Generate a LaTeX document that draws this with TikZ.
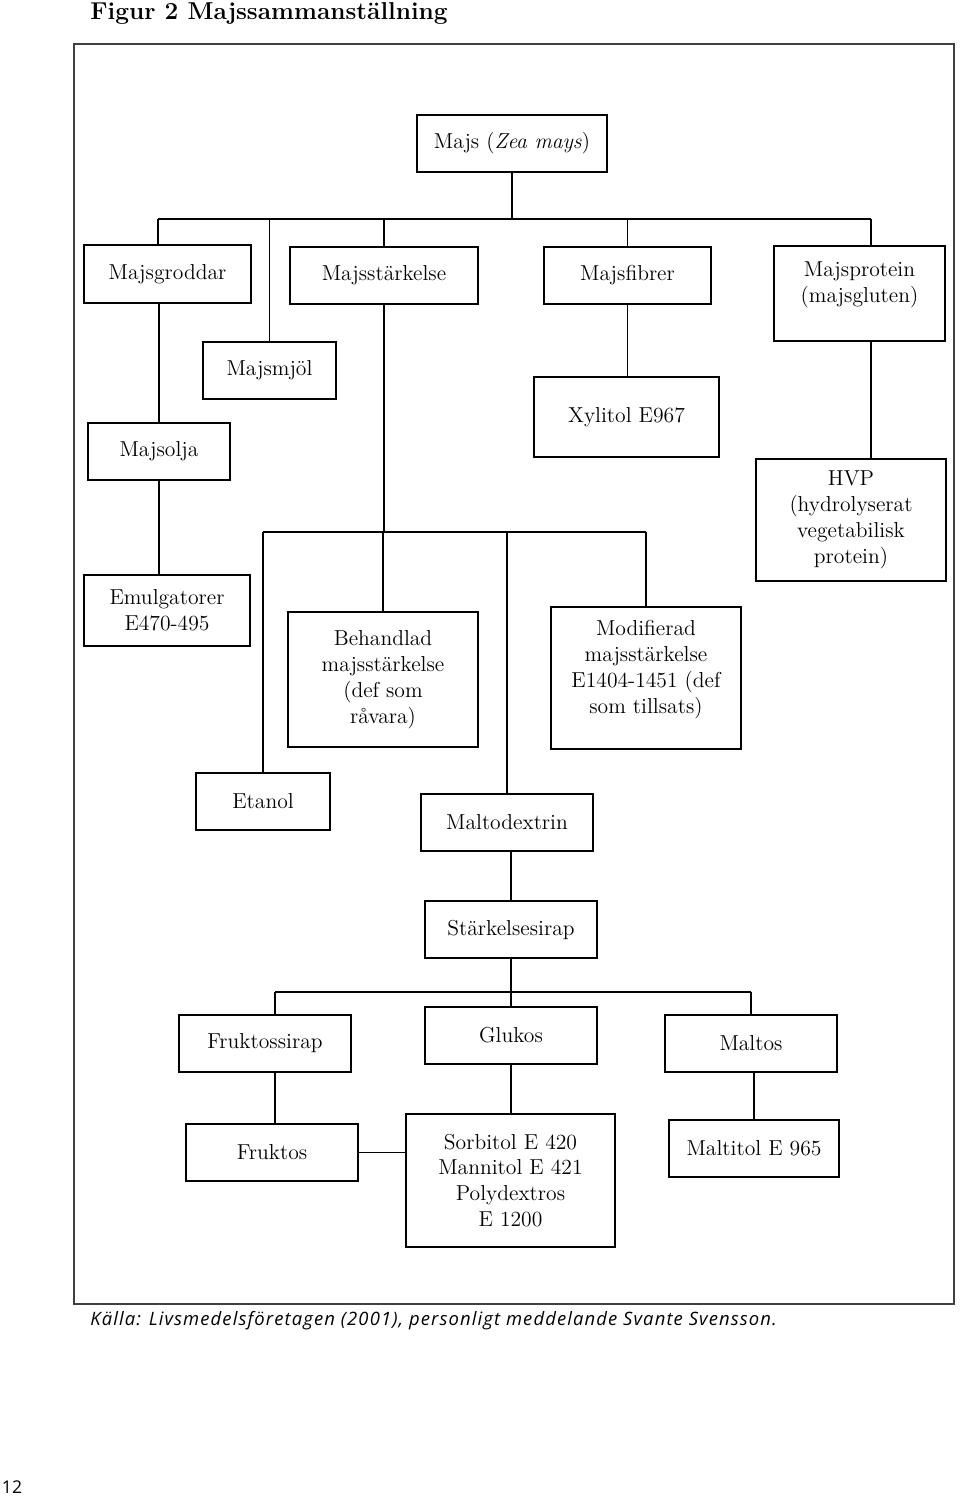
\documentclass[tikz,border=0pt]{standalone}
\usepackage{fontspec}
\newfontfamily\capfont{Open Sans}
\newfontfamily\notecapfont[LetterSpace=6]{Open Sans}
\newcommand{\pxu}{0.02cm}
\newcommand{\boxfont}{\fontsize{12.3}{14.7}\selectfont}
\newcommand{\titlefont}{\fontsize{13.9}{16}\selectfont\bfseries}
\newcommand{\notefont}{\fontsize{10.5}{12}\selectfont\notecapfont\itshape}
\newcommand{\topbary}{219}
\newcommand{\midbary}{532}
\newcommand{\lowbary}{992}
\tikzset{
  box/.style 2 args={draw, line width=1.1pt, align=center, inner sep=2pt,
    minimum width=#1*\pxu, minimum height=#2*\pxu, font=\boxfont},
  conn/.style={line width=1.1pt}
}

\begin{document}
\begin{tikzpicture}[x=\pxu, y=-\pxu]
    \useasboundingbox (0,0) rectangle (960,1496);
    \draw[line width=1pt, black!75] (74,44) rectangle (954,1304);

    \node[anchor=west, font=\titlefont, inner sep=0pt] (titel) at (90,13)
      {Figur 2 Majssammanställning};
    \node[anchor=west, font=\notefont, inner sep=0pt] (kalla) at (90,1321)
      {Källa: Livsmedelsföretagen (2001), personligt meddelande Svante Svensson.};
    \node[font=\fontsize{10}{12}\selectfont\capfont] (sida) at (12,1487) {12};

    \node[box={190}{57}] (majs) at (512,143.5) {Majs (\textit{Zea mays})};

    \node[box={167}{58}] (groddar) at (167.5,274) {Majsgroddar};
    \node[box={188}{57}] (starkelse) at (384,275.5) {Majsstärkelse};
    \node[box={167}{57}] (fibrer) at (627.5,275.5) {Majsfibrer};
    \node[box={171}{95}] (protein) at (859.5,293.5)
      {Majsprotein\\(majsgluten)\\[-2pt]};

    \node[box={133}{57}] (majsmjol) at (269.5,370.5) {Majsmjöl};
    \node[box={142}{57}] (majsolja) at (159,451.5) {Majsolja};
    \node[box={185}{80}] (xylitol) at (626.5,417) {Xylitol E967};
    \node[box={190}{122}] (hvp) at (851,520)
      {HVP\\(hydrolyserat\\vegetabilisk\\protein)};
    \node[box={166}{71}] (emulg) at (167,610.5) {Emulgatorer\\E470-495};

    \node[box={190}{135}] (behandlad) at (383,679.5)
      {Behandlad\\majsstärkelse\\(def som\\råvara)};
    \node[box={190}{142}] (modifierad) at (646,678)
      {Modifierad\\majsstärkelse\\E1404-1451 (def\\som tillsats)\\[-2pt]};

    \node[box={134}{57}] (etanol) at (263,801.5) {Etanol};
    \node[box={172}{57}] (maltodextrin) at (507,822.5) {Maltodextrin};
    \node[box={172}{57}] (sirap) at (511,929.5) {Stärkelsesirap};

    \node[box={172}{57}] (fruktossirap) at (265,1043.5) {Fruktossirap};
    \node[box={172}{57}] (glukos) at (511,1035.5) {Glukos};
    \node[box={172}{57}] (maltos) at (751,1043.5) {Maltos};

    \node[box={172}{57}] (fruktos) at (272,1152.5) {Fruktos};
    \node[box={209}{133}] (sorbitol) at (510.5,1180.5)
      {Sorbitol E 420\\Mannitol E 421\\Polydextros\\E 1200};
    \node[box={170}{57}] (maltitol) at (754,1148.5) {Maltitol E 965};

    \coordinate (topbarw) at (158,\topbary);
    \coordinate (topbare) at (871,\topbary);
    \coordinate (midbar) at (0,\midbary);
    \coordinate (lowbarw) at (275,\lowbary);

    \begin{scope}[conn]
      \draw (majs.south) -- (majs.south |- topbarw);
      \draw (topbarw) -- (topbare);
      \draw (topbarw) -- (topbarw |- groddar.north);
      \draw (majsmjol.north |- topbarw) -- (majsmjol.north);
      \draw (starkelse.north |- topbarw) -- (starkelse.north);
      \draw (fibrer.north |- topbarw) -- (fibrer.north);
      \draw (topbare) -- (topbare |- protein.north);

      \draw (majsolja.north |- groddar.south) -- (majsolja.north);
      \draw (majsolja.south) -- (majsolja.south |- emulg.north);
      \draw (fibrer.south) -- (fibrer.south |- xylitol.north);
      \draw (topbare |- protein.south) -- (topbare |- hvp.north);

      \draw (starkelse.south) -- (starkelse.south |- midbar);
      \draw (etanol.north |- midbar) -- (modifierad.north |- midbar);
      \draw (etanol.north |- midbar) -- (etanol.north);
      \draw (behandlad.north |- midbar) -- (behandlad.north);
      \draw (maltodextrin.north |- midbar) -- (maltodextrin.north);
      \draw (modifierad.north |- midbar) -- (modifierad.north);

      \draw (sirap.north |- maltodextrin.south) -- (sirap.north);
      \draw (sirap.south) -- (sirap.south |- lowbarw);
      \draw (lowbarw) -- (maltos.north |- lowbarw);
      \draw (lowbarw) -- (lowbarw |- fruktossirap.north);
      \draw (glukos.north |- lowbarw) -- (glukos.north);
      \draw (maltos.north |- lowbarw) -- (maltos.north);

      \draw (lowbarw |- fruktossirap.south) -- (lowbarw |- fruktos.north);
      \draw (glukos.south) -- (glukos.south |- sorbitol.north);
      \draw (maltitol.north |- maltos.south) -- (maltitol.north);
      \draw (fruktos.east) -- (fruktos.east -| sorbitol.west);
    \end{scope}
\end{tikzpicture}
\end{document}
